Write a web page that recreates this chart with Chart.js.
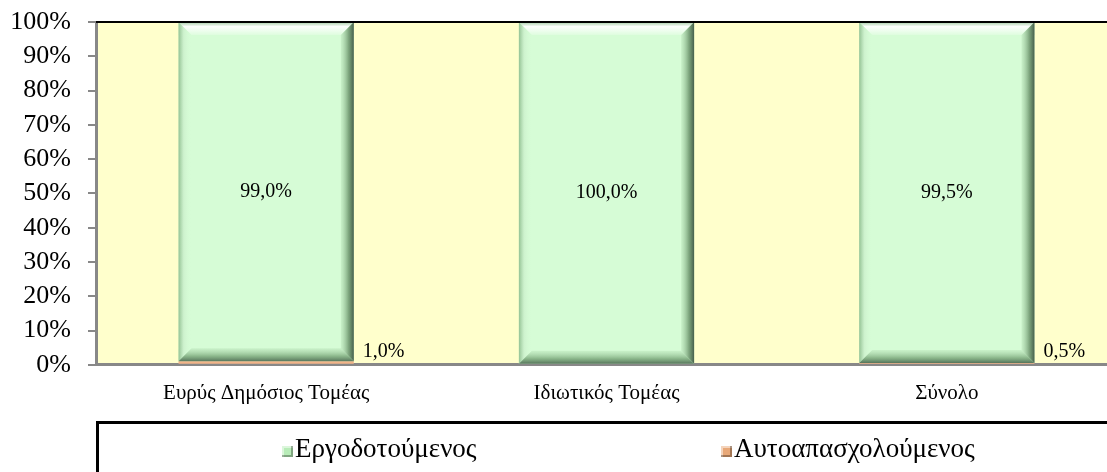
<!DOCTYPE html>
<html>
<head>
<meta charset="utf-8">
<script src="https://cdn.jsdelivr.net/npm/chart.js@4"></script>
<style>
  html, body { margin: 0; padding: 0; background: #fff; overflow: hidden; width: 1107px; height: 472px; }
  #wrap { position: relative; width: 1130px; height: 472px; }
  #legend {
    position: absolute; left: 96px; top: 421px; width: 1100px; height: 80px;
    border-top: 3px solid #000; border-left: 3px solid #000; box-sizing: border-box;
    font-family: "Liberation Serif", "Times New Roman", serif; font-size: 27px; color: #000;
  }
  .lg { position: absolute; top: 8px; display: flex; align-items: baseline; line-height: 32px; }
  .lg i { display: inline-block; width: 11px; height: 11px; margin-right: 2px; }
</style>
</head>
<body>
<div id="wrap">
  <canvas id="chart" width="1130" height="472"></canvas>
  <div id="legend"></div>
</div>
<script>
const categories = ['Ευρύς Δημόσιος Τομέας', 'Ιδιωτικός Τομέας', 'Σύνολο'];
const employed = [99.0, 100.0, 99.5];
const selfEmployed = [1.0, 0.0, 0.5];
const seriesNames = ['Εργοδοτούμενος', 'Αυτοαπασχολούμενος'];
const yTicks = [0, 10, 20, 30, 40, 50, 60, 70, 80, 90, 100];

const GREEN = '#d6fcd6';
const ORANGE = '#f2b489';
const PLOT_BG = '#ffffcc';
const FONT = '"Liberation Serif", "Times New Roman", serif';

const fmtPct = v => v.toFixed(1).replace('.', ',') + '%';

// Plot background + top border
const plotBg = {
  id: 'plotBg',
  beforeDraw(chart) {
    const { ctx, chartArea: a } = chart;
    ctx.save();
    ctx.fillStyle = PLOT_BG;
    ctx.fillRect(a.left, a.top, a.right - a.left, a.bottom - a.top);
    ctx.restore();
  },
  afterDraw(chart) {
    const { ctx, chartArea: a } = chart;
    ctx.save();
    ctx.strokeStyle = '#000';
    ctx.lineWidth = 2;
    ctx.beginPath();
    ctx.moveTo(a.left, a.top);
    ctx.lineTo(a.right, a.top);
    ctx.stroke();
    ctx.restore();
  }
};

// Bevel shading on the green bars (dataset 1)
const bevel = {
  id: 'bevel',
  afterDatasetsDraw(chart) {
    const { ctx } = chart;
    const meta = chart.getDatasetMeta(1);
    meta.data.forEach(bar => {
      const l = bar.x - bar.width / 2, r = bar.x + bar.width / 2;
      const t = Math.min(bar.y, bar.base), b = Math.max(bar.y, bar.base);
      const d = 13;
      ctx.save();
      // top highlight
      let g = ctx.createLinearGradient(0, t, 0, t + d);
      g.addColorStop(0, 'rgba(160,200,160,0.9)');
      g.addColorStop(0.35, 'rgba(255,255,255,0.95)');
      g.addColorStop(1, 'rgba(255,255,255,0.2)');
      ctx.fillStyle = g;
      ctx.beginPath();
      ctx.moveTo(l, t); ctx.lineTo(r, t); ctx.lineTo(r - d, t + d); ctx.lineTo(l + d, t + d); ctx.closePath();
      ctx.fill();
      // left side
      g = ctx.createLinearGradient(l, 0, l + d, 0);
      g.addColorStop(0, 'rgba(120,170,120,0.7)');
      g.addColorStop(0.4, 'rgba(200,235,200,0.6)');
      g.addColorStop(1, 'rgba(214,252,214,0)');
      ctx.fillStyle = g;
      ctx.beginPath();
      ctx.moveTo(l, t); ctx.lineTo(l + d, t + d); ctx.lineTo(l + d, b - d); ctx.lineTo(l, b); ctx.closePath();
      ctx.fill();
      // right side
      g = ctx.createLinearGradient(r - d, 0, r, 0);
      g.addColorStop(0, 'rgba(170,215,170,0.3)');
      g.addColorStop(0.6, 'rgba(110,150,110,0.85)');
      g.addColorStop(1, 'rgba(70,95,75,1)');
      ctx.fillStyle = g;
      ctx.beginPath();
      ctx.moveTo(r, t); ctx.lineTo(r, b); ctx.lineTo(r - d, b - d); ctx.lineTo(r - d, t + d); ctx.closePath();
      ctx.fill();
      // bottom side
      g = ctx.createLinearGradient(0, b - d, 0, b);
      g.addColorStop(0, 'rgba(170,215,170,0.3)');
      g.addColorStop(0.6, 'rgba(120,165,120,0.8)');
      g.addColorStop(1, 'rgba(85,115,90,1)');
      ctx.fillStyle = g;
      ctx.beginPath();
      ctx.moveTo(l, b); ctx.lineTo(l + d, b - d); ctx.lineTo(r - d, b - d); ctx.lineTo(r, b); ctx.closePath();
      ctx.fill();
      ctx.restore();
    });
  }
};

// Value labels
const valueLabels = {
  id: 'valueLabels',
  afterDatasetsDraw(chart) {
    const { ctx } = chart;
    ctx.save();
    ctx.fillStyle = '#000';
    ctx.font = '20px ' + FONT;
    ctx.textBaseline = 'middle';
    chart.getDatasetMeta(1).data.forEach((bar, i) => {
      ctx.textAlign = 'center';
      ctx.fillText(fmtPct(employed[i]), bar.x, (bar.y + bar.base) / 2);
    });
    chart.getDatasetMeta(0).data.forEach((bar, i) => {
      if (!selfEmployed[i]) return;
      ctx.textAlign = 'left';
      ctx.fillText(fmtPct(selfEmployed[i]), bar.x + bar.width / 2 + 9, bar.base - 12);
    });
    ctx.restore();
  }
};

new Chart(document.getElementById('chart'), {
  type: 'bar',
  data: {
    labels: categories,
    datasets: [
      { label: seriesNames[1], data: selfEmployed, backgroundColor: ORANGE, borderWidth: 0 },
      { label: seriesNames[0], data: employed, backgroundColor: GREEN, borderWidth: 0 }
    ]
  },
  options: {
    responsive: false,
    animation: false,
    devicePixelRatio: 1,
    layout: { padding: { top: 22, left: 10, right: 13, bottom: 58 } },
    datasets: { bar: { categoryPercentage: 1, barPercentage: 0.515 } },
    plugins: { legend: { display: false }, tooltip: { enabled: false } },
    scales: {
      x: {
        stacked: true,
        grid: { display: false },
        border: { color: '#888', width: 3 },
        ticks: { color: '#000', font: { family: FONT, size: 21 }, padding: 8, maxRotation: 0 }
      },
      y: {
        stacked: true,
        min: 0, max: 100,
        afterBuildTicks: axis => { axis.ticks = yTicks.map(v => ({ value: v })); },
        afterFit: axis => { axis.width = 86; axis.paddingTop = 0; axis.paddingBottom = 0; },
        grid: { display: true, drawOnChartArea: false, color: '#888', tickLength: 8, lineWidth: 2 },
        border: { color: '#888', width: 3 },
        ticks: { color: '#000', font: { family: FONT, size: 26, lineHeight: 1 }, padding: 17, autoSkip: false, callback: v => v + '%' }
      }
    }
  },
  plugins: [plotBg, bevel, valueLabels]
});

// Legend row
const legendEl = document.getElementById('legend');
const legendPos = [183, 622];
const legendColors = ['#b8ecb8', '#e8a878'];
legendColors.forEach((c, i) => {
  const item = document.createElement('div');
  item.className = 'lg';
  item.style.left = legendPos[i] + 'px';
  item.innerHTML = `<i style="background:${c};box-shadow: inset -2px -2px 0 rgba(0,0,0,0.3), inset 2px 2px 0 rgba(255,255,255,0.5)"></i><span>${seriesNames[i]}</span>`;
  legendEl.appendChild(item);
});
</script>
</body>
</html>
